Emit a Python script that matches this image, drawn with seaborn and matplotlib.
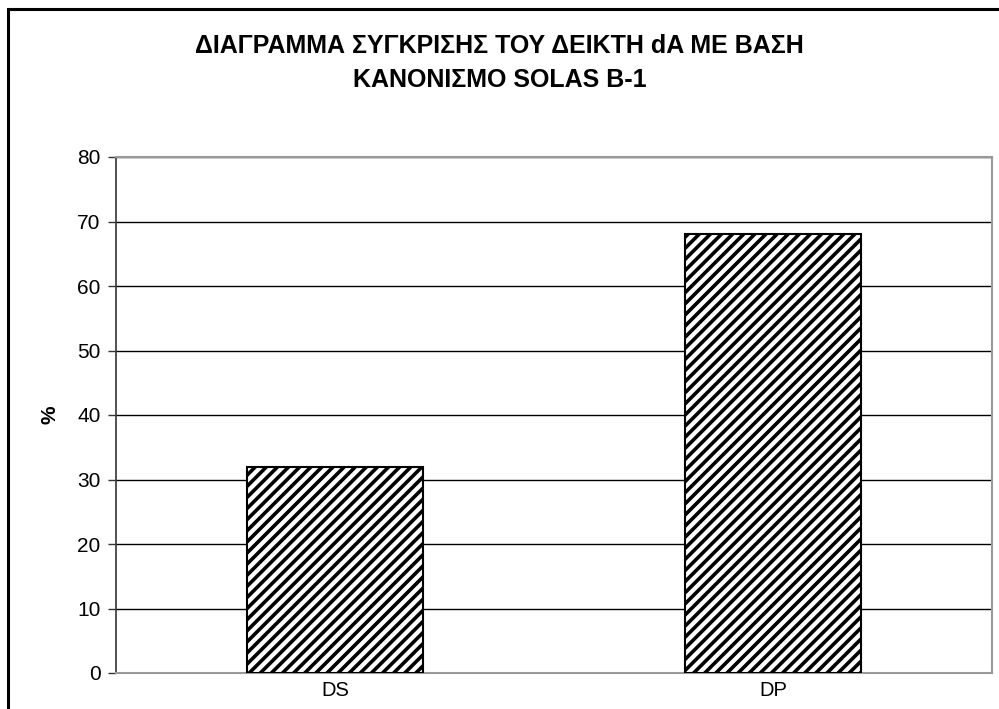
import matplotlib
matplotlib.use("Agg")
import matplotlib.pyplot as plt
from matplotlib.patches import Rectangle
import seaborn as sns
import pandas as pd

categories = ["DS", "DP"]
values = [31.9, 68.1]
y_ticks = [0, 10, 20, 30, 40, 50, 60, 70, 80]
title_text = "ΔΙΑΓΡΑΜΜΑ ΣΥΓΚΡΙΣΗΣ ΤΟΥ ΔΕΙΚΤΗ dA ΜΕ ΒΑΣΗ\nΚΑΝΟΝΙΣΜΟ SOLAS B-1"
y_label = "%"

sns.set_theme(style="white")
plt.rcParams["font.family"] = ["Liberation Sans", "DejaVu Sans"]
plt.rcParams["text.color"] = "black"
plt.rcParams["axes.labelcolor"] = "black"
plt.rcParams["xtick.color"] = "black"
plt.rcParams["ytick.color"] = "black"
plt.rcParams["hatch.linewidth"] = 2.6
plt.rcParams["hatch.color"] = "black"

df = pd.DataFrame({"category": categories, "value": values})

fig = plt.figure(figsize=(9.99, 7.09), dpi=100)
ax = fig.add_axes([116 / 999, 1 - 673 / 709, (992 - 116) / 999, (673 - 157) / 709])

sns.barplot(data=df, x="category", y="value", ax=ax, color="white",
            width=0.4, edgecolor="black", linewidth=1.5, hatch="///", zorder=3)

ax.set_ylim(0, 80)
ax.set_xlim(-0.5, 1.5)
ax.set_yticks(y_ticks)
ax.set_yticklabels([str(t) for t in y_ticks], fontsize=15)
ax.yaxis.grid(True, color="black", linewidth=1.0, zorder=0)
ax.set_axisbelow(True)
ax.tick_params(axis="y", which="major", direction="out", length=6, width=1,
               color="#333333", labelcolor="black", pad=5, left=True)
ax.tick_params(axis="x", length=0, labelsize=14.5, labelcolor="black", pad=6)
ax.set_xlabel("")
ax.set_ylabel(y_label, fontsize=15, fontweight="bold", color="black", labelpad=13)

for side in ["top", "right", "bottom"]:
    ax.spines[side].set_color("#999999")
    ax.spines[side].set_linewidth(1.5)
ax.spines["left"].set_color("#333333")
ax.spines["left"].set_linewidth(1.2)

fig.text(0.5, 1 - 63 / 709, title_text, ha="center", va="center",
         fontsize=18, fontweight="bold", color="black", linespacing=1.55)

# outer frame of the chart area
fig.patches.append(Rectangle((8 / 999, -0.05), 1.2, 1 - 9 / 709 + 0.05,
                             transform=fig.transFigure, fill=False,
                             edgecolor="black", linewidth=2.2, zorder=10))

fig.savefig("out.png", dpi=100)
